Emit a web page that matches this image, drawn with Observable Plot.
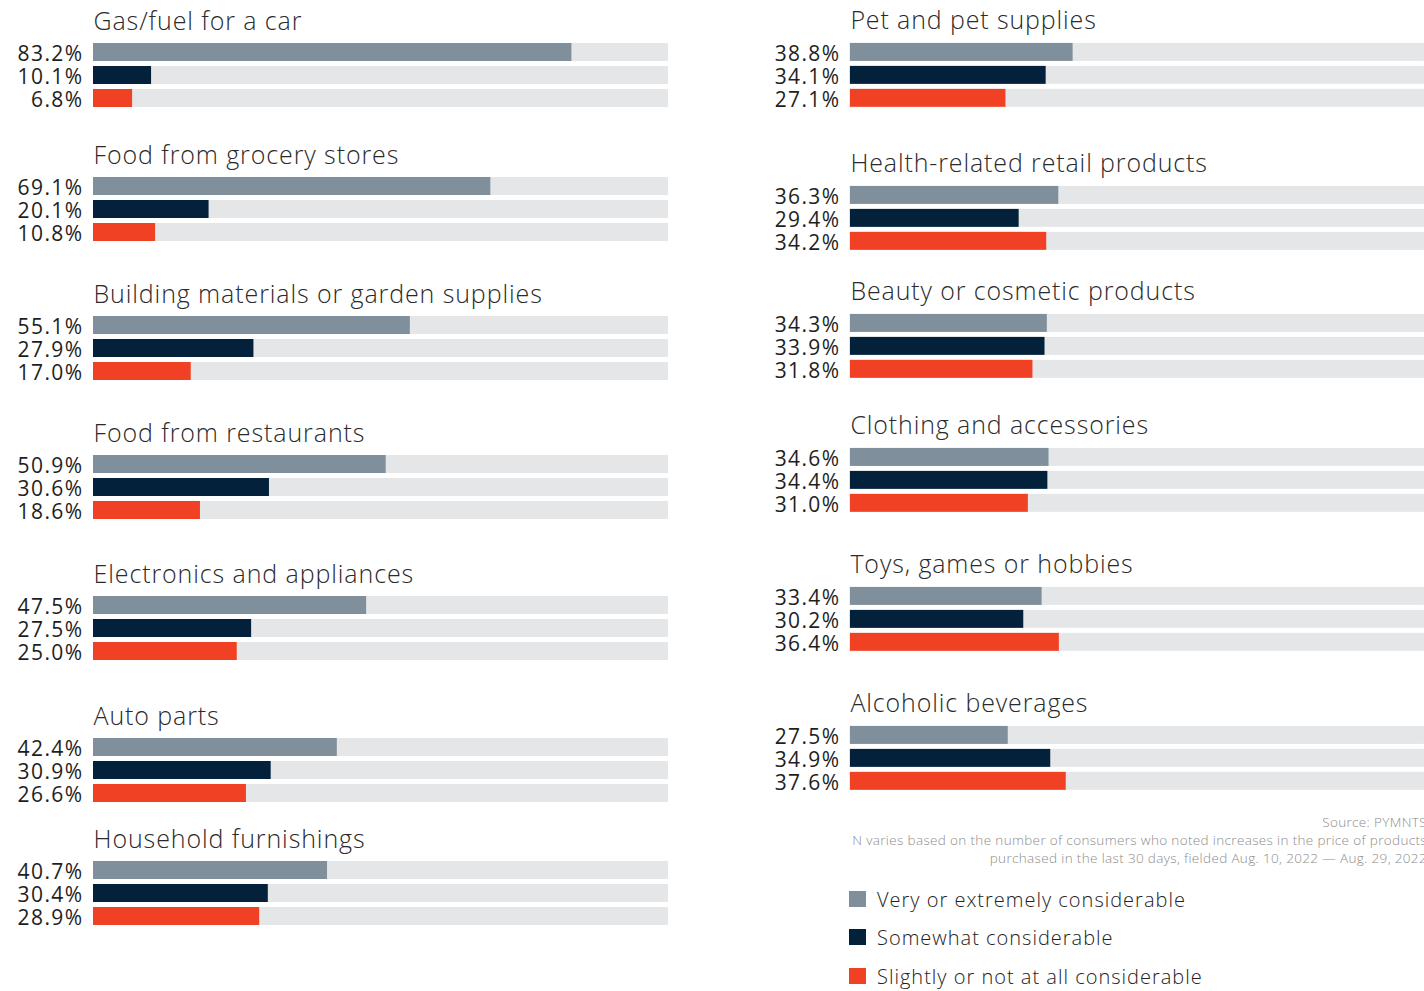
<!DOCTYPE html>
<html><head><meta charset="utf-8">
<script src="https://cdn.jsdelivr.net/npm/d3@7"></script>
<script src="https://cdn.jsdelivr.net/npm/@observablehq/plot@0.6"></script>
<style>
html,body{margin:0;padding:0;background:#fff;overflow:hidden;width:1424px;height:991px;}
#root{position:relative;width:1424px;height:991px;overflow:hidden;font-family:"Open Sans",sans-serif;}
.grp{position:absolute;}
.grp svg g[font-size="21"]{letter-spacing:1.4px;}
.grp svg g[font-size="25"]{letter-spacing:0.9px;}
.note{position:absolute;right:-3px;font-size:13.5px;line-height:16px;color:#8c8c8c;text-align:right;white-space:nowrap;font-weight:300;letter-spacing:0.35px;}
.leg{position:absolute;left:849px;font-size:20px;color:#222;font-weight:300;white-space:nowrap;letter-spacing:1px;}
.leg span.sw{position:absolute;left:0;width:17px;height:16px;}
.leg span.t{position:absolute;left:28px;}
</style></head><body><div id="root"></div>
<script>
// ---- data ----
const categories = [
  "Gas/fuel for a car","Food from grocery stores","Building materials or garden supplies",
  "Food from restaurants","Electronics and appliances","Auto parts","Household furnishings",
  "Pet and pet supplies","Health-related retail products","Beauty or cosmetic products",
  "Clothing and accessories","Toys, games or hobbies","Alcoholic beverages"
];
const seriesNames = ["Very or extremely considerable","Somewhat considerable","Slightly or not at all considerable"];
const veryValues     = [83.2,69.1,55.1,50.9,47.5,42.4,40.7,38.8,36.3,34.3,34.6,33.4,27.5];
const somewhatValues = [10.1,20.1,27.9,30.6,27.5,30.9,30.4,34.1,29.4,33.9,34.4,30.2,34.9];
const slightlyValues = [6.8,10.8,17.0,18.6,25.0,26.6,28.9,27.1,34.2,31.8,31.0,36.4,37.6];
const sourceLines = [
  "Source: PYMNTS",
  "N varies based on the number of consumers who noted increases in the price of products",
  "purchased in the last 30 days, fielded Aug. 10, 2022 \u2014 Aug. 29, 2022"
];

// ---- style / layout ----
const seriesColors = ["#7f8f9b","#03213b","#f04124"];
const trackColor = "#e5e6e8";
const layout = [
  [0,43],[0,177],[0,316],[0,455],[0,596],[0,738],[0,861],
  [1,43],[1,186],[1,314],[1,448],[1,587],[1,726]
];
const colLeft = [0, 757];

const root = document.getElementById("root");
categories.forEach((cat, i) => {
  const vals = [veryValues[i], somewhatValues[i], slightlyValues[i]];
  const rows = seriesNames.map((s, k) => ({series: s, value: vals[k]}));
  const [col, top] = layout[i];
  const chart = Plot.plot({
    width: 668, height: 107,
    marginTop: 43, marginLeft: 93, marginRight: 0, marginBottom: 0,
    x: {domain: [0, 100], axis: null},
    y: {domain: seriesNames, axis: null, paddingInner: 5/23, paddingOuter: 0},
    color: {domain: seriesNames, range: seriesColors},
    style: {background: "transparent", overflow: "visible", fontFamily: "Open Sans, sans-serif"},
    marks: [
      Plot.barX(rows, {x1: 0, x2: 100, y: "series", fill: trackColor}),
      Plot.barX(rows, {x1: 0, x2: "value", y: "series", fill: "series"}),
      Plot.text(rows, {x: 0, y: "series", text: d => d.value.toFixed(1) + "%", textAnchor: "end",
        dx: -10, dy: 2, fontSize: 21, fill: "#1e1e1e"}),
      Plot.text([cat], {frameAnchor: "top-left", text: d => d, lineAnchor: "bottom", dy: -14,
        fontSize: 25, fontWeight: 300, fill: "#2a2a2a"})
    ]
  });
  const div = document.createElement("div");
  div.className = "grp";
  div.style.left = colLeft[col] + "px";
  div.style.top = (top - 43) + "px";
  div.appendChild(chart);
  root.appendChild(div);
});

const noteTops = [814, 832, 850];
sourceLines.forEach((t, i) => {
  const d = document.createElement("div");
  d.className = "note";
  d.style.top = noteTops[i] + "px";
  d.textContent = t;
  root.appendChild(d);
});

const legTops = [886, 924, 963];
seriesNames.forEach((s, i) => {
  const d = document.createElement("div");
  d.className = "leg";
  d.style.top = legTops[i] + "px";
  d.innerHTML = `<span class="sw" style="top:5px;background:${seriesColors[i]}"></span><span class="t"></span>`;
  d.querySelector(".t").textContent = s;
  root.appendChild(d);
});
</script>
</body></html>
